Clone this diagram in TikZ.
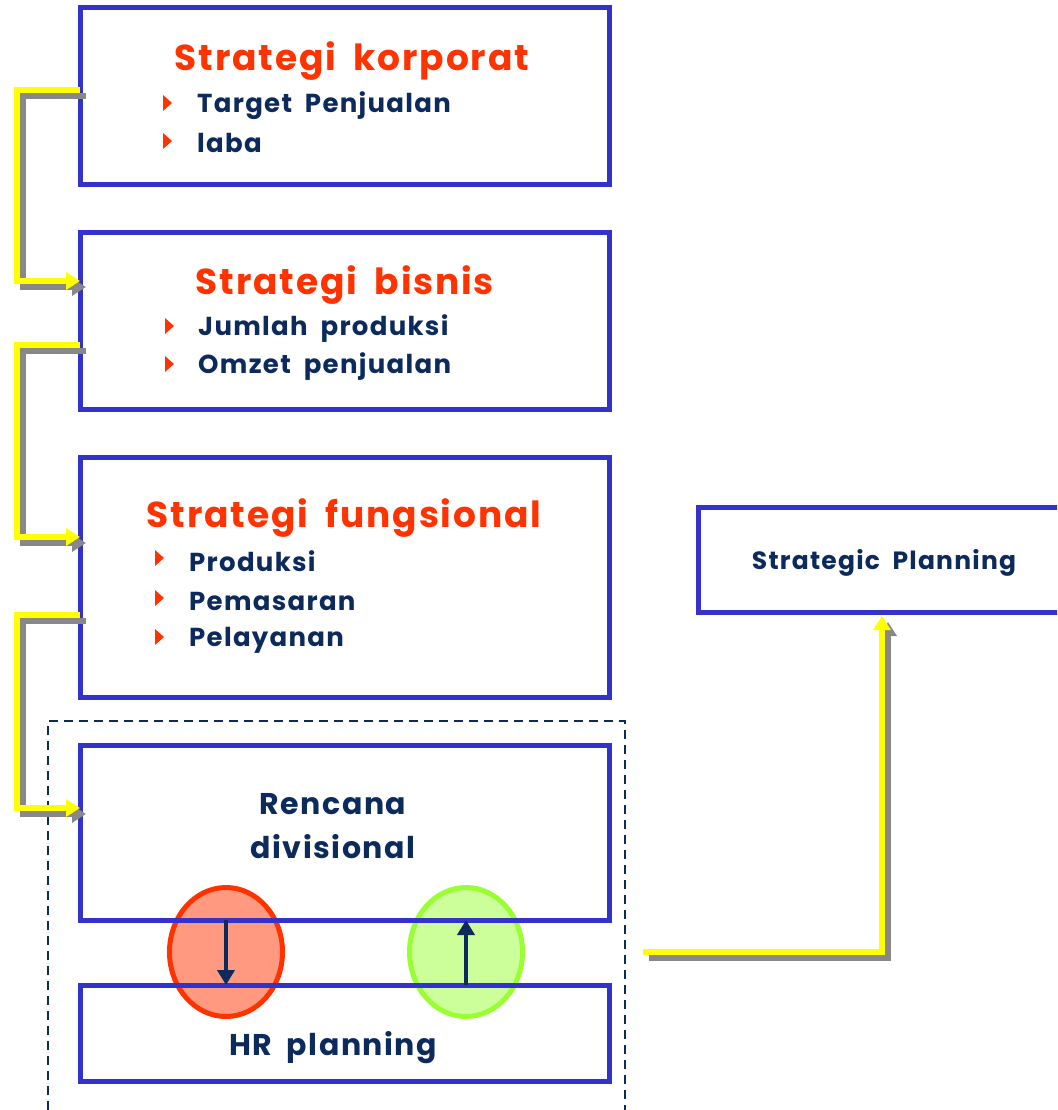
\documentclass[tikz,border=0pt]{standalone}
\usepackage{fontspec}
\setmainfont{Poppins}[LetterSpace=5,WordSpace=1.9]
\usetikzlibrary{shapes.geometric,arrows.meta,calc}
\definecolor{boxblue}{HTML}{3333CC}
\definecolor{tred}{HTML}{FF3300}
\definecolor{navy}{HTML}{0C2A5C}
\definecolor{shgray}{HTML}{888888}
\definecolor{yel}{HTML}{FFFF00}
\definecolor{redfill}{HTML}{FF9980}
\definecolor{greenfill}{HTML}{CCFF99}
\definecolor{greenline}{HTML}{99FF33}
\tikzset{
  bbox/.style={draw=boxblue,line width=5pt,minimum width=529pt,inner sep=0pt,outer sep=0pt},
  ttl/.style={text=tred,font=\fontsize{36}{40}\selectfont\bfseries,inner sep=0pt},
  itm/.style={text=navy,font=\fontsize{26}{30}\selectfont\bfseries,anchor=west,inner sep=0pt},
  lbl/.style={text=navy,font=\fontsize{30}{44}\selectfont\bfseries,align=center,inner sep=0pt},
  yconn/.style={draw=yel,line width=6pt,-{Triangle[length=14pt,width=17pt]}},
  sconn/.style={draw=shgray,line width=6pt,-{Triangle[length=14pt,width=17pt]}},
  navarrow/.style={draw=navy,line width=4pt,-{Triangle[length=15pt,width=17pt]}},
  bul/.pic={\fill[tred] (0,-8) -- (9,0) -- (0,8) -- cycle;}
}
\begin{document}
\begin{tikzpicture}[x=1pt,y=-1pt]
\useasboundingbox (0,0) rectangle (1057,1110);
\clip (0,0) rectangle (1057,1110);
% dashed region
\draw[navy,line width=1.6pt,dash pattern=on 9pt off 6pt] (48,1125) -- (48,721) -- (625,721) -- (625,1125);
% ellipses
\node[ellipse,draw=tred,fill=redfill,line width=5pt,minimum width=113pt,minimum height=129pt] (r1) at (226,952) {};
\node[ellipse,draw=greenline,fill=greenfill,line width=5pt,minimum width=113pt,minimum height=129pt] (g1) at (466,952) {};
% boxes
\node[bbox,minimum height=177pt] (b1) at (344.5,96.5) {};
\node[bbox,minimum height=177pt] (b2) at (344.5,320.5) {};
\node[bbox,minimum height=240pt] (b3) at (344.5,577) {};
\node[bbox,minimum height=175pt] (b4) at (344.5,832.5) {};
\node[bbox,minimum height=96pt] (b5) at (344.5,1033) {};
\node[bbox,minimum width=370pt,minimum height=105pt] (sp) at (883,559.5) {};
% texts
\node[ttl] (t1) at (352,61) {Strategi korporat};
\pic at (163,103) {bul};
\node[itm] (i11) at (197,106) {Target Penjualan};
\pic at (163,141) {bul};
\node[itm] (i12) at (197,143) {laba};
\node[ttl] (t2) at (345,285) {Strategi bisnis};
\pic at (165,326) {bul};
\node[itm] (i21) at (198,329) {Jumlah produksi};
\pic at (165,364) {bul};
\node[itm] (i22) at (198,367) {Omzet penjualan};
\node[ttl] (t3) at (344,518) {Strategi fungsional};
\pic at (155,558) {bul};
\node[itm] (i31) at (189,561) {Produksi};
\pic at (155,598) {bul};
\node[itm] (i32) at (189,601) {Pemasaran};
\pic at (155,637) {bul};
\node[itm] (i33) at (189,640) {Pelayanan};
\node[lbl] (t4) at (333,826) {Rencana\\divisional};
\node[lbl] (t5) at (333,1048) {HR planning};
\node[text=navy,font=\fontsize{25}{30}\selectfont\bfseries,inner sep=0pt] (t6) at (884,563) {Strategic Planning};
% navy arrows
\draw[navarrow] (b4.south -| r1.center) -- (b5.north -| r1.center);
\draw[navarrow] (b5.north -| g1.center) -- (b4.south -| g1.center);
% connector coordinates
\coordinate (c1s) at ($(b1.west)+(0,-6)$);
\coordinate (c1e) at ($(b2.west)+(0,-39.5)$);
\coordinate (c2s) at ($(b2.west)+(0,24.5)$);
\coordinate (c2e) at ($(b3.west)+(0,-40)$);
\coordinate (c3s) at ($(b3.west)+(0,38)$);
\coordinate (c3e) at ($(b4.west)+(0,-24.5)$);
\coordinate (c4s) at (643,952);
\coordinate (c4e) at ($(sp.south)+(-1,4)$);
% shadows
\draw[sconn] ($(c1s)+(6,6)$) -| ($(c1s)+(-57,6)$) |- ($(c1e)+(6,6)$);
\draw[sconn] ($(c2s)+(6,6)$) -| ($(c2s)+(-57,6)$) |- ($(c2e)+(6,6)$);
\draw[sconn] ($(c3s)+(6,6)$) -| ($(c3s)+(-57,6)$) |- ($(c3e)+(6,6)$);
\draw[sconn] ($(c4s)+(6,6)$) -| ($(c4e)+(6,6)$);
% yellow
\draw[yconn] (c1s) -- ++(-63,0) |- (c1e);
\draw[yconn] (c2s) -- ++(-63,0) |- (c2e);
\draw[yconn] (c3s) -- ++(-63,0) |- (c3e);
\draw[yconn] (c4s) -| (c4e);
\end{tikzpicture}
\end{document}
